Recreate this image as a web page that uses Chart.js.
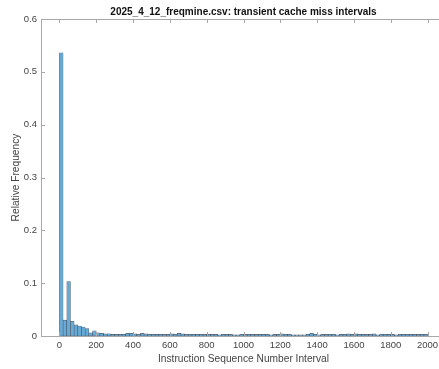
<!DOCTYPE html>
<html>
<head>
<meta charset="utf-8">
<script src="https://cdn.jsdelivr.net/npm/chart.js@4.4.1/dist/chart.umd.min.js"></script>
<style>
  html, body { margin: 0; padding: 0; background: #fff; overflow: hidden; }
  canvas { display: block; }
</style>
</head>
<body>
<canvas id="hist" width="446" height="369"></canvas>
<script>
// histogram of intervals between transient cache misses, 20-wide bins from 0 to 2000
var binWidth = 20;
var relFreq = [
    0.536, 0.030, 0.103, 0.028, 0.021, 0.019, 0.017, 0.014, 0.006, 0.010,
    0.006, 0.005, 0.004, 0.004, 0.003, 0.003, 0.003, 0.003, 0.005, 0.005,
    0.004, 0.003, 0.005, 0.004, 0.003, 0.003, 0.003, 0.003, 0.003, 0.003,
    0.004, 0.003, 0.005, 0.004, 0.003, 0.003, 0.003, 0.003, 0.003, 0.003,
    0.003, 0.003, 0.003, 0.002, 0.003, 0.003, 0.003, 0.002, 0.002, 0.003,
    0.003, 0.003, 0.003, 0.003, 0.003, 0.003, 0.003, 0.002, 0.003, 0.003,
    0.004, 0.003, 0.003, 0.002, 0.002, 0.002, 0.002, 0.003, 0.005, 0.003,
    0.002, 0.003, 0.003, 0.003, 0.003, 0.002, 0.003, 0.003, 0.004, 0.003,
    0.004, 0.003, 0.003, 0.003, 0.003, 0.004, 0.002, 0.003, 0.003, 0.003,
    0.003, 0.002, 0.003, 0.003, 0.003, 0.003, 0.003, 0.003, 0.003, 0.003
];
var xTicks = [0, 200, 400, 600, 800, 1000, 1200, 1400, 1600, 1800, 2000];
var yTicks = [0, 0.1, 0.2, 0.3, 0.4, 0.5, 0.6];
var titleText = "2025_4_12_freqmine.csv: transient cache miss intervals";

var bars = [];
relFreq.forEach((v, i) => {
    bars.push({ x: i * binWidth + binWidth / 2, y: v });
});

var fontFamily = "Liberation Sans, Arial, sans-serif";
var axisColor = "#a8a8a8";
var textColor = "#444";

// matlab style: ticks point inwards, box line on top, title centred over the axes
var innerTicks = {
    id: "innerTicks",
    afterDraw: function(chart) {
        var ctx = chart.ctx;
        var area = chart.chartArea;
        var xs = chart.scales.x;
        var ys = chart.scales.y;
        ctx.save();
        ctx.strokeStyle = axisColor;
        ctx.lineWidth = 1;
        ctx.beginPath();
        ctx.moveTo(area.left, area.top + 0.5);
        ctx.lineTo(area.right, area.top + 0.5);
        xTicks.forEach((t) => {
            var px = Math.round(xs.getPixelForValue(t)) + 0.5;
            ctx.moveTo(px, area.bottom);
            ctx.lineTo(px, area.bottom - 4);
            ctx.moveTo(px, area.top);
            ctx.lineTo(px, area.top + 4);
        });
        yTicks.forEach((t) => {
            var py = Math.round(ys.getPixelForValue(t)) + 0.5;
            ctx.moveTo(area.left, py);
            ctx.lineTo(area.left + 4, py);
        });
        ctx.stroke();

        ctx.fillStyle = "#111";
        ctx.font = "bold 10px " + fontFamily;
        ctx.textAlign = "center";
        ctx.textBaseline = "middle";
        ctx.fillText(titleText, (area.left + area.right) / 2, 12);
        ctx.restore();
    }
};

new Chart(document.getElementById("hist"), {
    type: "bar",
    data: {
        datasets: [{
            data: bars,
            backgroundColor: "rgb(102,170,215)",
            borderColor: "rgba(38,45,60,0.75)",
            borderWidth: 0.6,
            borderSkipped: false,
            barPercentage: 1,
            categoryPercentage: 1
        }]
    },
    options: {
        responsive: false,
        animation: false,
        layout: { padding: { top: 19 } },
        plugins: {
            legend: { display: false },
            tooltip: { enabled: false }
        },
        scales: {
            x: {
                type: "linear",
                min: -100,
                max: 2100,
                offset: false,
                grid: { display: false, drawTicks: false },
                border: { display: true, color: axisColor, width: 1 },
                afterBuildTicks: function(scale) {
                    scale.ticks = xTicks.map((v) => ({ value: v }));
                },
                afterFit: function(scale) { scale.height = 33; },
                ticks: {
                    color: textColor,
                    padding: 4,
                    maxRotation: 0,
                    autoSkip: false,
                    font: { family: fontFamily, size: 9.5 },
                    callback: function(v) { return String(v); }
                },
                title: {
                    display: true,
                    text: "Instruction Sequence Number Interval",
                    color: textColor,
                    font: { family: fontFamily, size: 10.2 },
                    padding: { top: 0, bottom: 4 }
                }
            },
            y: {
                min: 0,
                max: 0.6,
                grid: { display: false, drawTicks: false },
                border: { display: true, color: axisColor, width: 1 },
                afterBuildTicks: function(scale) {
                    scale.ticks = yTicks.map((v) => ({ value: v }));
                },
                afterFit: function(scale) { scale.width = 41; },
                ticks: {
                    color: textColor,
                    padding: 4,
                    font: { family: fontFamily, size: 9.5 },
                    callback: function(v) { return String(v); }
                },
                title: {
                    display: true,
                    text: "Relative Frequency",
                    color: textColor,
                    font: { family: fontFamily, size: 10.2 },
                    padding: { top: 10, bottom: 0 }
                }
            }
        }
    },
    plugins: [innerTicks]
});
</script>
</body>
</html>
